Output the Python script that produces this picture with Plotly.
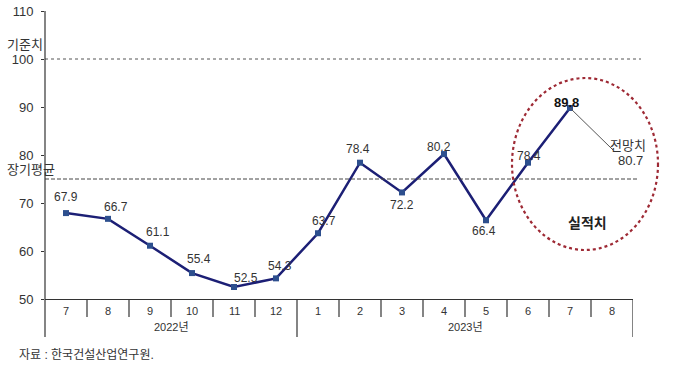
import plotly.graph_objects as go

# ---- data ----
months = ["7", "8", "9", "10", "11", "12", "1", "2", "3", "4", "5", "6", "7", "8"]
years = ["2022년", "2023년"]
year_span = [6, 8]  # number of months per year group
values = [67.9, 66.7, 61.1, 55.4, 52.5, 54.3, 63.7, 78.4, 72.2, 80.2, 66.4, 78.4, 89.8]
forecast_value = 80.7
reference_value = 100
long_term_avg = 75.0
y_ticks = [50, 60, 70, 80, 90, 100, 110]

# ---- styling helpers (label offsets in px) ----
label_dx = [0, 8, 8, 7, 12, 4, 6, -2, 0, -5, -2, 1, -4]
label_dy = [16, 12, 14, 14, 9, 12, 12, 14, -13, 7, -11, 7, 5]

FONT = "Liberation Sans, Noto Sans CJK KR, sans-serif"
TXT = "#333333"

W, H = 674, 373
L, R, T, B = 45, 41, 11, 74
pw, ph = W - L - R, H - T - B


def px(xp):
    return (xp - L) / pw


def py(yp):
    return (H - B - yp) / ph


x_idx = list(range(len(values)))
fig = go.Figure()
fig.add_trace(go.Scatter(
    x=x_idx, y=values, mode="lines+markers",
    line=dict(color="#1c1f75", width=2.5),
    marker=dict(symbol="square", size=6, color="#2d4f8e"),
    hoverinfo="skip", showlegend=False, cliponaxis=False,
))

annotations = []
for i, v in enumerate(values):
    bold = (i == len(values) - 1)
    annotations.append(dict(
        x=i, y=v, xref="x", yref="y", text=(f"<b>{v:.1f}</b>" if bold else f"{v:.1f}"),
        showarrow=False, xshift=label_dx[i], yshift=label_dy[i],
        font=dict(family=FONT, size=12 if not bold else 13, color="#111" if bold else TXT),
    ))

# month labels
for i, m in enumerate(months):
    annotations.append(dict(x=i, y=py(311), xref="x", yref="paper", text=m, showarrow=False,
                            font=dict(family=FONT, size=11, color=TXT), yanchor="middle"))
# year labels
start = -0.5
for yl, n in zip(years, year_span):
    annotations.append(dict(x=start + n / 2, y=py(327), xref="x", yref="paper", text=yl, showarrow=False,
                            font=dict(family=FONT, size=11, color=TXT), yanchor="middle"))
    start += n

annotations += [
    dict(x=px(5), y=py(44), xref="paper", yref="paper", text="기준치", showarrow=False,
         xanchor="left", yanchor="middle", font=dict(family=FONT, size=13, color=TXT)),
    dict(x=px(5), y=py(170), xref="paper", yref="paper", text="장기평균", showarrow=False,
         xanchor="left", yanchor="middle", font=dict(family=FONT, size=13, color=TXT)),
    dict(x=px(587), y=py(223), xref="paper", yref="paper", text="<b>실적치</b>", showarrow=False,
         font=dict(family=FONT, size=14, color="#222"), xanchor="center", yanchor="middle"),
    dict(x=px(628), y=py(145), xref="paper", yref="paper", text="전망치", showarrow=False,
         font=dict(family=FONT, size=13, color=TXT), xanchor="center", yanchor="middle"),
    dict(x=px(630), y=py(160), xref="paper", yref="paper", text=f"{forecast_value:.1f}", showarrow=False,
         font=dict(family=FONT, size=13, color=TXT), xanchor="center", yanchor="middle"),
    dict(x=px(17), y=py(355), xref="paper", yref="paper", text="자료 : 한국건설산업연구원.", showarrow=False,
         font=dict(family=FONT, size=12, color=TXT), xanchor="left", yanchor="middle"),
]

shapes = []
# reference lines
shapes.append(dict(type="line", xref="paper", yref="y", x0=0, x1=px(641), y0=reference_value, y1=reference_value,
                   line=dict(color="#555555", width=1, dash="dot")))
shapes.append(dict(type="line", xref="paper", yref="y", x0=0, x1=px(638), y0=long_term_avg, y1=long_term_avg,
                   line=dict(color="#444444", width=1, dash="4px,2px")))
# y axis line extended below
shapes.append(dict(type="line", xref="paper", yref="paper", x0=0, x1=0, y0=1, y1=py(337),
                   line=dict(color="#333333", width=1.2)))
# category separators
bounds = [sum(year_span[:k + 1]) for k in range(len(year_span))]
for i in range(1, len(months) + 1):
    long_line = i in bounds
    shapes.append(dict(type="line", xref="x", yref="paper", x0=i - 0.5, x1=i - 0.5,
                       y0=0, y1=py(337) if long_line else py(317),
                       line=dict(color="#333333", width=1.2)))
# ellipse
shapes.append(dict(type="circle", xref="paper", yref="paper",
                   x0=px(512), x1=px(658), y0=py(250), y1=py(78),
                   line=dict(color="#9e2a35", width=2.2, dash="dot")))
# forecast connector line
shapes.append(dict(type="line", xref="x", yref="y", x0=len(values) - 1, y0=values[-1],
                   x1=len(values) - 1 + (612 - 569) / 42, y1=values[-1] - (150 - 108) / 4.8,
                   line=dict(color="#555555", width=1)))

fig.update_layout(
    width=W, height=H,
    margin=dict(l=L, r=R, t=T, b=B, pad=0, autoexpand=False),
    paper_bgcolor="white", plot_bgcolor="white",
    xaxis=dict(range=[-0.5, 13.5], showticklabels=False, showgrid=False, zeroline=False,
               showline=True, linecolor="#333333", linewidth=1.2, ticks="", automargin=False),
    yaxis=dict(range=[50, 110], tickvals=y_ticks, showgrid=False, zeroline=False,
               showline=False, ticks="outside", ticklen=3, tickcolor="#333333", automargin=False,
               ticklabelstandoff=5,
               tickfont=dict(family=FONT, size=13, color=TXT)),
    annotations=annotations, shapes=shapes,
    font=dict(family=FONT),
)

fig.write_html("out.html", config={"displayModeBar": False},
               post_script="document.body.style.margin='0';document.body.style.padding='0';")
